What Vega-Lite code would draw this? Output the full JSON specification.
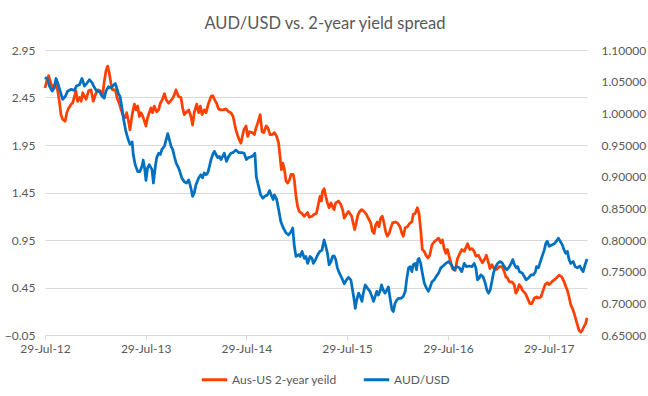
{
"$schema": "https://vega.github.io/schema/vega-lite/v6.json",
"width": 542, "height": 285,
"autosize": {"type": "none"},
"padding": {"left": 45, "top": 50, "right": 61, "bottom": 61},
"background": "white",
"title": {"text": "AUD/USD vs. 2-year yield spread", "font": "Lato", "fontSize": 16.5, "fontWeight": "normal", "color": "#595959", "offset": 12, "frame": "bounds", "anchor": "middle"},
"datasets": {
"spread": [
{"date":"2012-07-29","value":2.55},{"date":"2012-08-04","value":2.62},{"date":"2012-08-11","value":2.68},{"date":"2012-08-17","value":2.62},{"date":"2012-08-26","value":2.55},{"date":"2012-09-05","value":2.59},{"date":"2012-09-13","value":2.52},{"date":"2012-09-19","value":2.41},{"date":"2012-09-25","value":2.27},{"date":"2012-10-01","value":2.22},{"date":"2012-10-10","value":2.20},{"date":"2012-10-16","value":2.29},{"date":"2012-10-23","value":2.34},{"date":"2012-11-01","value":2.38},{"date":"2012-11-06","value":2.39},{"date":"2012-11-12","value":2.45},{"date":"2012-11-18","value":2.52},{"date":"2012-11-24","value":2.41},{"date":"2012-12-01","value":2.45},{"date":"2012-12-07","value":2.41},{"date":"2012-12-13","value":2.50},{"date":"2012-12-19","value":2.46},{"date":"2012-12-25","value":2.43},{"date":"2013-01-03","value":2.52},{"date":"2013-01-12","value":2.53},{"date":"2013-01-20","value":2.41},{"date":"2013-01-28","value":2.48},{"date":"2013-02-05","value":2.53},{"date":"2013-02-14","value":2.52},{"date":"2013-02-23","value":2.48},{"date":"2013-03-01","value":2.62},{"date":"2013-03-07","value":2.73},{"date":"2013-03-13","value":2.78},{"date":"2013-03-19","value":2.71},{"date":"2013-03-25","value":2.60},{"date":"2013-03-31","value":2.53},{"date":"2013-04-10","value":2.53},{"date":"2013-04-16","value":2.45},{"date":"2013-04-25","value":2.38},{"date":"2013-05-01","value":2.32},{"date":"2013-05-07","value":2.27},{"date":"2013-05-17","value":2.24},{"date":"2013-05-21","value":2.29},{"date":"2013-05-28","value":2.20},{"date":"2013-06-02","value":2.11},{"date":"2013-06-10","value":2.27},{"date":"2013-06-18","value":2.38},{"date":"2013-06-24","value":2.32},{"date":"2013-06-30","value":2.36},{"date":"2013-07-06","value":2.25},{"date":"2013-07-12","value":2.29},{"date":"2013-07-20","value":2.24},{"date":"2013-07-30","value":2.15},{"date":"2013-08-05","value":2.24},{"date":"2013-08-11","value":2.29},{"date":"2013-08-17","value":2.34},{"date":"2013-08-23","value":2.29},{"date":"2013-08-29","value":2.36},{"date":"2013-09-07","value":2.30},{"date":"2013-09-14","value":2.32},{"date":"2013-09-20","value":2.39},{"date":"2013-09-28","value":2.43},{"date":"2013-10-05","value":2.49},{"date":"2013-10-11","value":2.43},{"date":"2013-10-20","value":2.39},{"date":"2013-10-29","value":2.42},{"date":"2013-11-06","value":2.45},{"date":"2013-11-16","value":2.53},{"date":"2013-11-25","value":2.46},{"date":"2013-12-04","value":2.45},{"date":"2013-12-10","value":2.34},{"date":"2013-12-16","value":2.27},{"date":"2013-12-22","value":2.29},{"date":"2014-01-01","value":2.32},{"date":"2014-01-09","value":2.25},{"date":"2014-01-15","value":2.16},{"date":"2014-01-21","value":2.29},{"date":"2014-01-30","value":2.38},{"date":"2014-02-06","value":2.29},{"date":"2014-02-12","value":2.36},{"date":"2014-02-18","value":2.27},{"date":"2014-02-26","value":2.32},{"date":"2014-03-05","value":2.29},{"date":"2014-03-14","value":2.39},{"date":"2014-03-23","value":2.46},{"date":"2014-03-29","value":2.47},{"date":"2014-04-04","value":2.43},{"date":"2014-04-12","value":2.39},{"date":"2014-04-19","value":2.33},{"date":"2014-04-28","value":2.32},{"date":"2014-05-06","value":2.32},{"date":"2014-05-16","value":2.33},{"date":"2014-05-26","value":2.30},{"date":"2014-06-03","value":2.29},{"date":"2014-06-11","value":2.25},{"date":"2014-06-21","value":2.11},{"date":"2014-07-01","value":2.02},{"date":"2014-07-09","value":1.97},{"date":"2014-07-20","value":2.11},{"date":"2014-07-28","value":2.15},{"date":"2014-08-03","value":2.04},{"date":"2014-08-09","value":2.09},{"date":"2014-08-19","value":2.08},{"date":"2014-08-27","value":2.06},{"date":"2014-09-02","value":2.13},{"date":"2014-09-08","value":2.18},{"date":"2014-09-17","value":2.27},{"date":"2014-09-24","value":2.09},{"date":"2014-09-30","value":2.08},{"date":"2014-10-09","value":2.15},{"date":"2014-10-15","value":2.13},{"date":"2014-10-23","value":2.06},{"date":"2014-10-31","value":2.06},{"date":"2014-11-08","value":2.08},{"date":"2014-11-16","value":2.04},{"date":"2014-11-23","value":1.97},{"date":"2014-11-28","value":1.83},{"date":"2014-12-03","value":1.69},{"date":"2014-12-08","value":1.76},{"date":"2014-12-14","value":1.69},{"date":"2014-12-20","value":1.57},{"date":"2014-12-26","value":1.55},{"date":"2015-01-01","value":1.58},{"date":"2015-01-07","value":1.64},{"date":"2015-01-15","value":1.64},{"date":"2015-01-19","value":1.58},{"date":"2015-01-25","value":1.41},{"date":"2015-01-31","value":1.30},{"date":"2015-02-06","value":1.25},{"date":"2015-02-15","value":1.23},{"date":"2015-02-24","value":1.20},{"date":"2015-03-02","value":1.22},{"date":"2015-03-08","value":1.24},{"date":"2015-03-14","value":1.19},{"date":"2015-03-24","value":1.20},{"date":"2015-04-01","value":1.22},{"date":"2015-04-09","value":1.23},{"date":"2015-04-17","value":1.34},{"date":"2015-04-22","value":1.41},{"date":"2015-04-27","value":1.36},{"date":"2015-05-01","value":1.46},{"date":"2015-05-07","value":1.49},{"date":"2015-05-13","value":1.41},{"date":"2015-05-19","value":1.34},{"date":"2015-05-25","value":1.29},{"date":"2015-06-01","value":1.34},{"date":"2015-06-06","value":1.30},{"date":"2015-06-12","value":1.27},{"date":"2015-06-18","value":1.34},{"date":"2015-06-28","value":1.36},{"date":"2015-07-07","value":1.32},{"date":"2015-07-13","value":1.27},{"date":"2015-07-19","value":1.18},{"date":"2015-07-27","value":1.22},{"date":"2015-08-03","value":1.25},{"date":"2015-08-08","value":1.23},{"date":"2015-08-15","value":1.20},{"date":"2015-08-20","value":1.13},{"date":"2015-08-26","value":1.06},{"date":"2015-09-01","value":1.14},{"date":"2015-09-07","value":1.22},{"date":"2015-09-13","value":1.25},{"date":"2015-09-20","value":1.27},{"date":"2015-09-29","value":1.25},{"date":"2015-10-07","value":1.22},{"date":"2015-10-14","value":1.18},{"date":"2015-10-23","value":1.13},{"date":"2015-10-29","value":1.04},{"date":"2015-11-04","value":1.02},{"date":"2015-11-10","value":1.11},{"date":"2015-11-16","value":1.14},{"date":"2015-11-22","value":1.09},{"date":"2015-11-28","value":1.18},{"date":"2015-12-04","value":1.20},{"date":"2015-12-10","value":1.13},{"date":"2015-12-16","value":1.04},{"date":"2015-12-22","value":0.99},{"date":"2015-12-29","value":1.02},{"date":"2016-01-04","value":1.08},{"date":"2016-01-10","value":1.13},{"date":"2016-01-20","value":1.14},{"date":"2016-01-28","value":1.13},{"date":"2016-02-06","value":1.09},{"date":"2016-02-13","value":1.02},{"date":"2016-02-18","value":0.99},{"date":"2016-02-25","value":1.08},{"date":"2016-03-04","value":1.09},{"date":"2016-03-13","value":1.13},{"date":"2016-03-20","value":1.14},{"date":"2016-03-25","value":1.22},{"date":"2016-04-01","value":1.23},{"date":"2016-04-09","value":1.29},{"date":"2016-04-15","value":1.23},{"date":"2016-04-21","value":1.06},{"date":"2016-04-27","value":0.85},{"date":"2016-05-04","value":0.83},{"date":"2016-05-10","value":0.79},{"date":"2016-05-17","value":0.76},{"date":"2016-05-24","value":0.79},{"date":"2016-06-01","value":0.90},{"date":"2016-06-09","value":0.93},{"date":"2016-06-17","value":0.95},{"date":"2016-06-25","value":0.97},{"date":"2016-07-03","value":0.92},{"date":"2016-07-09","value":0.95},{"date":"2016-07-15","value":0.86},{"date":"2016-07-21","value":0.81},{"date":"2016-07-27","value":0.85},{"date":"2016-08-02","value":0.78},{"date":"2016-08-14","value":0.65},{"date":"2016-08-24","value":0.63},{"date":"2016-09-01","value":0.75},{"date":"2016-09-10","value":0.81},{"date":"2016-09-17","value":0.85},{"date":"2016-09-26","value":0.83},{"date":"2016-10-08","value":0.91},{"date":"2016-10-16","value":0.85},{"date":"2016-10-24","value":0.86},{"date":"2016-11-01","value":0.83},{"date":"2016-11-07","value":0.78},{"date":"2016-11-16","value":0.79},{"date":"2016-11-25","value":0.74},{"date":"2016-12-01","value":0.71},{"date":"2016-12-11","value":0.76},{"date":"2016-12-15","value":0.79},{"date":"2016-12-23","value":0.71},{"date":"2016-12-28","value":0.65},{"date":"2017-01-04","value":0.69},{"date":"2017-01-12","value":0.65},{"date":"2017-01-21","value":0.64},{"date":"2017-01-31","value":0.67},{"date":"2017-02-10","value":0.67},{"date":"2017-02-18","value":0.62},{"date":"2017-02-24","value":0.56},{"date":"2017-03-02","value":0.55},{"date":"2017-03-08","value":0.51},{"date":"2017-03-18","value":0.51},{"date":"2017-03-26","value":0.48},{"date":"2017-04-01","value":0.39},{"date":"2017-04-07","value":0.42},{"date":"2017-04-13","value":0.48},{"date":"2017-04-19","value":0.46},{"date":"2017-04-25","value":0.42},{"date":"2017-05-05","value":0.39},{"date":"2017-05-13","value":0.34},{"date":"2017-05-22","value":0.28},{"date":"2017-05-29","value":0.28},{"date":"2017-06-07","value":0.34},{"date":"2017-06-15","value":0.35},{"date":"2017-06-22","value":0.34},{"date":"2017-07-01","value":0.35},{"date":"2017-07-09","value":0.42},{"date":"2017-07-16","value":0.48},{"date":"2017-07-24","value":0.50},{"date":"2017-07-31","value":0.48},{"date":"2017-08-09","value":0.51},{"date":"2017-08-18","value":0.53},{"date":"2017-08-26","value":0.55},{"date":"2017-09-05","value":0.58},{"date":"2017-09-15","value":0.56},{"date":"2017-09-23","value":0.51},{"date":"2017-09-29","value":0.46},{"date":"2017-10-05","value":0.42},{"date":"2017-10-11","value":0.35},{"date":"2017-10-17","value":0.27},{"date":"2017-10-26","value":0.21},{"date":"2017-11-02","value":0.14},{"date":"2017-11-10","value":0.06},{"date":"2017-11-16","value":0.00},{"date":"2017-11-22","value":-0.02},{"date":"2017-11-28","value":0.00},{"date":"2017-12-04","value":0.04},{"date":"2017-12-10","value":0.07},{"date":"2017-12-15","value":0.13}
],
"aud": [
{"date":"2012-07-29","value":1.057},{"date":"2012-08-08","value":1.053},{"date":"2012-08-14","value":1.043},{"date":"2012-08-24","value":1.035},{"date":"2012-08-31","value":1.040},{"date":"2012-09-07","value":1.055},{"date":"2012-09-13","value":1.048},{"date":"2012-09-22","value":1.035},{"date":"2012-10-01","value":1.022},{"date":"2012-10-11","value":1.027},{"date":"2012-10-19","value":1.035},{"date":"2012-11-01","value":1.038},{"date":"2012-11-12","value":1.036},{"date":"2012-11-20","value":1.043},{"date":"2012-12-01","value":1.045},{"date":"2012-12-10","value":1.055},{"date":"2012-12-19","value":1.043},{"date":"2012-12-27","value":1.047},{"date":"2013-01-06","value":1.053},{"date":"2013-01-16","value":1.048},{"date":"2013-01-25","value":1.040},{"date":"2013-02-02","value":1.035},{"date":"2013-02-12","value":1.034},{"date":"2013-02-21","value":1.027},{"date":"2013-03-01","value":1.024},{"date":"2013-03-07","value":1.035},{"date":"2013-03-16","value":1.042},{"date":"2013-03-25","value":1.040},{"date":"2013-03-31","value":1.043},{"date":"2013-04-10","value":1.047},{"date":"2013-04-15","value":1.040},{"date":"2013-04-22","value":1.030},{"date":"2013-04-27","value":1.027},{"date":"2013-05-04","value":1.009},{"date":"2013-05-09","value":0.993},{"date":"2013-05-17","value":0.974},{"date":"2013-05-25","value":0.961},{"date":"2013-06-02","value":0.951},{"date":"2013-06-10","value":0.955},{"date":"2013-06-14","value":0.935},{"date":"2013-06-21","value":0.919},{"date":"2013-06-30","value":0.908},{"date":"2013-07-08","value":0.908},{"date":"2013-07-16","value":0.917},{"date":"2013-07-20","value":0.926},{"date":"2013-07-25","value":0.914},{"date":"2013-07-30","value":0.894},{"date":"2013-08-05","value":0.914},{"date":"2013-08-11","value":0.919},{"date":"2013-08-21","value":0.911},{"date":"2013-08-26","value":0.890},{"date":"2013-09-02","value":0.916},{"date":"2013-09-07","value":0.930},{"date":"2013-09-14","value":0.937},{"date":"2013-09-20","value":0.935},{"date":"2013-09-26","value":0.943},{"date":"2013-10-05","value":0.948},{"date":"2013-10-11","value":0.958},{"date":"2013-10-17","value":0.968},{"date":"2013-10-23","value":0.958},{"date":"2013-10-29","value":0.948},{"date":"2013-11-04","value":0.943},{"date":"2013-11-10","value":0.932},{"date":"2013-11-16","value":0.922},{"date":"2013-11-25","value":0.914},{"date":"2013-11-30","value":0.908},{"date":"2013-12-07","value":0.898},{"date":"2013-12-16","value":0.892},{"date":"2013-12-24","value":0.890},{"date":"2014-01-01","value":0.895},{"date":"2014-01-09","value":0.882},{"date":"2014-01-15","value":0.869},{"date":"2014-01-21","value":0.874},{"date":"2014-01-27","value":0.887},{"date":"2014-02-06","value":0.898},{"date":"2014-02-14","value":0.903},{"date":"2014-02-20","value":0.898},{"date":"2014-02-26","value":0.906},{"date":"2014-03-05","value":0.903},{"date":"2014-03-11","value":0.906},{"date":"2014-03-17","value":0.916},{"date":"2014-03-23","value":0.927},{"date":"2014-03-29","value":0.935},{"date":"2014-04-04","value":0.940},{"date":"2014-04-10","value":0.935},{"date":"2014-04-16","value":0.930},{"date":"2014-04-22","value":0.932},{"date":"2014-04-28","value":0.927},{"date":"2014-05-04","value":0.932},{"date":"2014-05-10","value":0.937},{"date":"2014-05-18","value":0.924},{"date":"2014-05-26","value":0.932},{"date":"2014-06-03","value":0.937},{"date":"2014-06-11","value":0.938},{"date":"2014-06-21","value":0.942},{"date":"2014-07-01","value":0.938},{"date":"2014-07-13","value":0.938},{"date":"2014-07-21","value":0.937},{"date":"2014-07-29","value":0.927},{"date":"2014-08-05","value":0.930},{"date":"2014-08-13","value":0.931},{"date":"2014-08-22","value":0.933},{"date":"2014-08-29","value":0.937},{"date":"2014-09-03","value":0.900},{"date":"2014-09-10","value":0.887},{"date":"2014-09-19","value":0.871},{"date":"2014-09-27","value":0.866},{"date":"2014-10-04","value":0.869},{"date":"2014-10-13","value":0.871},{"date":"2014-10-21","value":0.878},{"date":"2014-10-29","value":0.869},{"date":"2014-11-03","value":0.864},{"date":"2014-11-08","value":0.871},{"date":"2014-11-16","value":0.864},{"date":"2014-11-23","value":0.848},{"date":"2014-12-01","value":0.829},{"date":"2014-12-10","value":0.819},{"date":"2014-12-20","value":0.811},{"date":"2014-12-29","value":0.808},{"date":"2015-01-07","value":0.813},{"date":"2015-01-13","value":0.819},{"date":"2015-01-19","value":0.790},{"date":"2015-01-25","value":0.774},{"date":"2015-02-04","value":0.777},{"date":"2015-02-09","value":0.774},{"date":"2015-02-16","value":0.782},{"date":"2015-02-24","value":0.771},{"date":"2015-03-02","value":0.774},{"date":"2015-03-08","value":0.763},{"date":"2015-03-17","value":0.774},{"date":"2015-03-24","value":0.771},{"date":"2015-03-29","value":0.763},{"date":"2015-04-06","value":0.769},{"date":"2015-04-14","value":0.777},{"date":"2015-04-22","value":0.782},{"date":"2015-04-29","value":0.784},{"date":"2015-05-07","value":0.800},{"date":"2015-05-13","value":0.790},{"date":"2015-05-19","value":0.779},{"date":"2015-05-25","value":0.761},{"date":"2015-06-01","value":0.766},{"date":"2015-06-06","value":0.774},{"date":"2015-06-12","value":0.775},{"date":"2015-06-18","value":0.769},{"date":"2015-06-24","value":0.756},{"date":"2015-07-01","value":0.748},{"date":"2015-07-10","value":0.740},{"date":"2015-07-19","value":0.731},{"date":"2015-07-27","value":0.737},{"date":"2015-08-03","value":0.741},{"date":"2015-08-12","value":0.737},{"date":"2015-08-18","value":0.721},{"date":"2015-08-24","value":0.705},{"date":"2015-08-28","value":0.692},{"date":"2015-09-01","value":0.703},{"date":"2015-09-09","value":0.716},{"date":"2015-09-15","value":0.711},{"date":"2015-09-21","value":0.703},{"date":"2015-09-26","value":0.716},{"date":"2015-10-03","value":0.729},{"date":"2015-10-11","value":0.724},{"date":"2015-10-20","value":0.719},{"date":"2015-10-27","value":0.711},{"date":"2015-11-02","value":0.703},{"date":"2015-11-08","value":0.711},{"date":"2015-11-14","value":0.719},{"date":"2015-11-20","value":0.713},{"date":"2015-11-27","value":0.721},{"date":"2015-12-01","value":0.729},{"date":"2015-12-07","value":0.721},{"date":"2015-12-14","value":0.716},{"date":"2015-12-20","value":0.721},{"date":"2015-12-26","value":0.726},{"date":"2015-12-31","value":0.711},{"date":"2016-01-08","value":0.690},{"date":"2016-01-13","value":0.687},{"date":"2016-01-19","value":0.700},{"date":"2016-01-25","value":0.705},{"date":"2016-02-01","value":0.708},{"date":"2016-02-10","value":0.708},{"date":"2016-02-18","value":0.711},{"date":"2016-02-25","value":0.719},{"date":"2016-03-01","value":0.737},{"date":"2016-03-08","value":0.756},{"date":"2016-03-14","value":0.758},{"date":"2016-03-20","value":0.750},{"date":"2016-03-25","value":0.761},{"date":"2016-04-01","value":0.763},{"date":"2016-04-06","value":0.753},{"date":"2016-04-11","value":0.769},{"date":"2016-04-15","value":0.771},{"date":"2016-04-21","value":0.763},{"date":"2016-04-27","value":0.748},{"date":"2016-05-04","value":0.732},{"date":"2016-05-12","value":0.724},{"date":"2016-05-19","value":0.719},{"date":"2016-05-24","value":0.724},{"date":"2016-06-01","value":0.734},{"date":"2016-06-09","value":0.737},{"date":"2016-06-17","value":0.743},{"date":"2016-06-25","value":0.748},{"date":"2016-07-03","value":0.756},{"date":"2016-07-11","value":0.759},{"date":"2016-07-21","value":0.763},{"date":"2016-07-31","value":0.766},{"date":"2016-08-10","value":0.761},{"date":"2016-08-20","value":0.753},{"date":"2016-08-29","value":0.758},{"date":"2016-09-08","value":0.756},{"date":"2016-09-17","value":0.750},{"date":"2016-09-26","value":0.763},{"date":"2016-10-04","value":0.758},{"date":"2016-10-14","value":0.759},{"date":"2016-10-24","value":0.758},{"date":"2016-11-01","value":0.763},{"date":"2016-11-07","value":0.756},{"date":"2016-11-13","value":0.737},{"date":"2016-11-19","value":0.740},{"date":"2016-11-25","value":0.745},{"date":"2016-12-03","value":0.742},{"date":"2016-12-11","value":0.732},{"date":"2016-12-17","value":0.721},{"date":"2016-12-23","value":0.716},{"date":"2016-12-29","value":0.721},{"date":"2017-01-04","value":0.734},{"date":"2017-01-10","value":0.748},{"date":"2017-01-16","value":0.756},{"date":"2017-01-25","value":0.763},{"date":"2017-02-02","value":0.766},{"date":"2017-02-10","value":0.764},{"date":"2017-02-18","value":0.758},{"date":"2017-02-27","value":0.753},{"date":"2017-03-06","value":0.756},{"date":"2017-03-15","value":0.763},{"date":"2017-03-21","value":0.769},{"date":"2017-03-27","value":0.761},{"date":"2017-04-03","value":0.756},{"date":"2017-04-08","value":0.758},{"date":"2017-04-14","value":0.750},{"date":"2017-04-24","value":0.748},{"date":"2017-05-02","value":0.742},{"date":"2017-05-08","value":0.737},{"date":"2017-05-17","value":0.740},{"date":"2017-05-26","value":0.745},{"date":"2017-06-04","value":0.745},{"date":"2017-06-11","value":0.750},{"date":"2017-06-15","value":0.758},{"date":"2017-06-22","value":0.756},{"date":"2017-06-27","value":0.763},{"date":"2017-07-05","value":0.774},{"date":"2017-07-13","value":0.784},{"date":"2017-07-19","value":0.795},{"date":"2017-07-24","value":0.798},{"date":"2017-07-31","value":0.790},{"date":"2017-08-09","value":0.792},{"date":"2017-08-18","value":0.794},{"date":"2017-08-26","value":0.798},{"date":"2017-09-02","value":0.803},{"date":"2017-09-09","value":0.798},{"date":"2017-09-17","value":0.792},{"date":"2017-09-23","value":0.784},{"date":"2017-09-29","value":0.779},{"date":"2017-10-05","value":0.782},{"date":"2017-10-11","value":0.769},{"date":"2017-10-17","value":0.763},{"date":"2017-10-26","value":0.766},{"date":"2017-11-02","value":0.758},{"date":"2017-11-10","value":0.756},{"date":"2017-11-19","value":0.759},{"date":"2017-11-26","value":0.753},{"date":"2017-12-01","value":0.750},{"date":"2017-12-08","value":0.761},{"date":"2017-12-15","value":0.770}
]
},
"layer": [
{
"data": {"name": "spread"},
"mark": {"type": "line", "strokeWidth": 2.75, "strokeJoin": "round"},
"encoding": {
"x": {"field": "date", "type": "temporal",
"scale": {"type": "utc", "nice": false, "domain": [{"year": 2012, "month": 7, "date": 29, "utc": true}, {"year": 2017, "month": 12, "date": 15, "utc": true}]},
"axis": {"title": null, "grid": false, "format": "%d-%b-%y", "values": [{"year": 2012, "month": 7, "date": 29, "utc": true}, {"year": 2013, "month": 7, "date": 29, "utc": true}, {"year": 2014, "month": 7, "date": 29, "utc": true}, {"year": 2015, "month": 7, "date": 29, "utc": true}, {"year": 2016, "month": 7, "date": 29, "utc": true}, {"year": 2017, "month": 7, "date": 29, "utc": true}], "tickSize": 5, "labelPadding": 3, "domainColor": "#d9d9d9", "tickColor": "#d9d9d9", "labelFlush": false, "labelOverlap": false}},
"y": {"field": "value", "type": "quantitative",
"scale": {"domain": [-0.05, 2.95], "nice": false, "zero": false},
"axis": {"title": null, "values": [-0.05, 0.45, 0.95, 1.45, 1.95, 2.45, 2.95], "format": ".2f", "grid": true, "domain": false, "ticks": false, "labelPadding": 10}},
"color": {"datum": "Aus-US 2-year yeild", "type": "nominal",
"scale": {"domain": ["Aus-US 2-year yeild", "AUD/USD"], "range": ["#FF4000", "#0070C0"]},
"legend": {"title": null, "orient": "none", "legendX": 155, "legendY": 315, "direction": "horizontal", "symbolType": "stroke", "symbolStrokeWidth": 3, "symbolSize": 650, "columnPadding": 20, "labelOffset": 3}}
}
},
{
"data": {"name": "aud"},
"mark": {"type": "line", "strokeWidth": 2.75, "strokeJoin": "round"},
"encoding": {
"x": {"field": "date", "type": "temporal"},
"y": {"field": "value", "type": "quantitative",
"scale": {"domain": [0.65, 1.10], "nice": false, "zero": false},
"axis": {"title": null, "orient": "right", "values": [0.65, 0.7, 0.75, 0.8, 0.85, 0.9, 0.95, 1.0, 1.05, 1.1], "format": ".5f", "grid": false, "domain": false, "ticks": false, "labelPadding": 14}},
"color": {"datum": "AUD/USD", "type": "nominal"}
}
}
],
"resolve": {"scale": {"y": "independent"}},
"config": {
"font": "Lato",
"view": {"stroke": null},
"axis": {"labelFont": "Lato", "labelFontSize": 12, "labelColor": "#595959", "gridColor": "#d9d9d9", "gridWidth": 1},
"legend": {"labelFont": "Lato", "labelFontSize": 12, "labelColor": "#595959"}
}
}
